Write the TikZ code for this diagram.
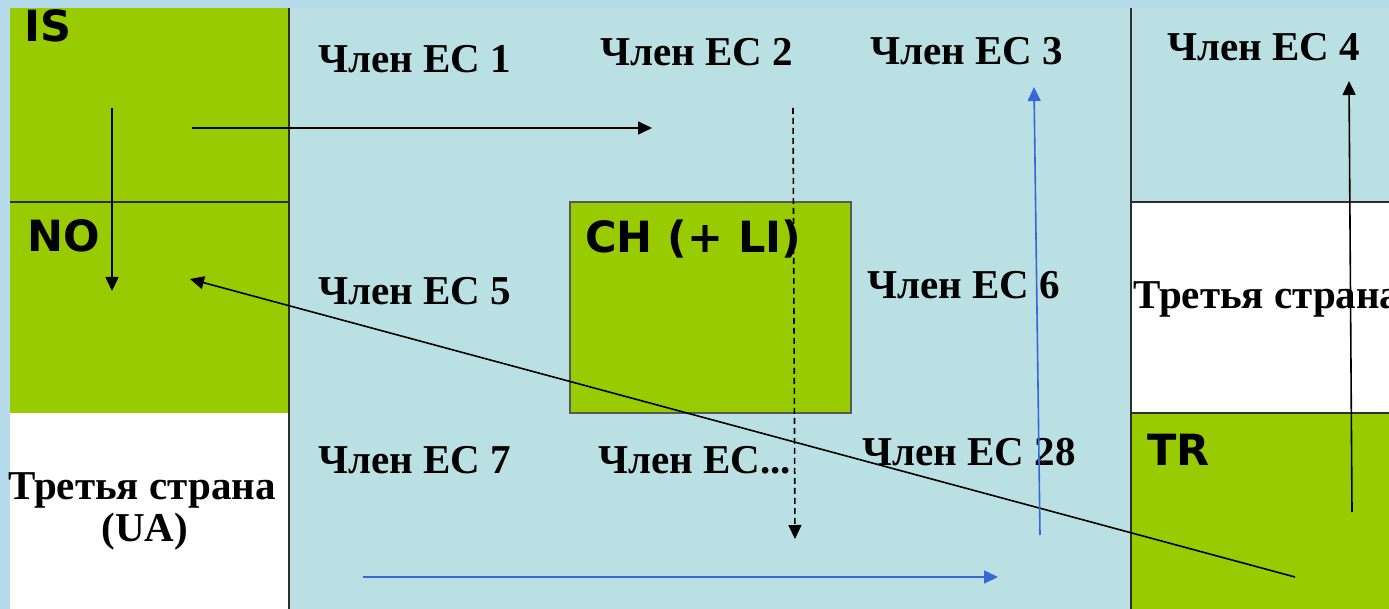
\documentclass[tikz,border=0pt]{standalone}
\usepackage{fontspec}
\setmainfont{Liberation Serif}
\newfontfamily\codefont{DejaVu Sans}
\usetikzlibrary{arrows.meta}
\definecolor{skyframe}{HTML}{B6DCEC}
\definecolor{eupanel}{HTML}{BAE0E3}
\definecolor{efta}{HTML}{99CC00}
\definecolor{flowblue}{HTML}{3468D6}
\definecolor{rule}{HTML}{2E2E2E}
\tikzset{
  cell/.style={anchor=north west, inner sep=0pt, outer sep=0pt, draw=none},
  member/.style={anchor=base west, inner sep=0pt, font=\fontsize{41}{46}\selectfont\bfseries},
  code/.style={anchor=base west, inner sep=0pt, font=\codefont\fontsize{43}{48}\selectfont\bfseries},
  divider/.style={draw=rule, line width=1.2pt},
  flow/.style={line width=1.6pt, -{Triangle[length=14pt,width=13pt]}},
  flowdash/.style={flow, dash pattern=on 6pt off 4pt},
}
\begin{document}
\begin{tikzpicture}[x=1pt,y=-1pt]
\useasboundingbox (0,0) rectangle (1389,609);
\clip (0,0) rectangle (1389,609);
\fill[skyframe] (0,0) rectangle (1389,609);

% cells of the grid
\node[cell, fill=eupanel, minimum width=1379pt, minimum height=601pt] (eu) at (10,8) {};
\node[cell, fill=efta, minimum width=279pt, minimum height=194pt] (is) at (10,8) {};
\node[cell, fill=efta, minimum width=279pt, minimum height=211pt] (no) at (10,202) {};
\node[cell, fill=white, minimum width=279pt, minimum height=196pt] (ua) at (10,413) {};
\node[cell, fill=eupanel, minimum width=258pt, minimum height=194pt] (top4) at (1131,8) {};
\node[cell, fill=white, minimum width=258pt, minimum height=211pt] (third) at (1131,202) {};
\node[cell, fill=efta, minimum width=258pt, minimum height=196pt] (tr) at (1131,413) {};
\node[cell, fill=efta, draw=rule!80, line width=1.2pt, minimum width=281pt, minimum height=211pt] (ch) at (570,202) {};

% grid rules
\draw[divider] (is.south west) -- (is.south east);
\draw[divider] (is.north east) -- (ua.south east);
\draw[divider] (top4.north west) -- (tr.south west);
\draw[divider] (third.north west) -- (third.north east);
\draw[divider] (tr.north west) -- (tr.north east);

% labels
\node[code] (lis) at (24,42) {IS};
\node[code] (lno) at (27,252) {NO};
\node[code] (lch) at (585,253) {CH (+ LI)};
\node[code] (ltr) at (1147,465) {TR};
\node[member] (m1) at (318,73) {Член ЕС 1};
\node[member] (m2) at (600,66) {Член ЕС 2};
\node[member] (m3) at (870,65) {Член ЕС 3};
\node[member] (m4) at (1167,61) {Член ЕС 4};
\node[member] (m5) at (318,305) {Член ЕС 5};
\node[member] (m6) at (867,299) {Член ЕС 6};
\node[member] (m7) at (318,473) {Член ЕС 7};
\node[member] (mx) at (598,473) {Член ЕС...};
\node[member] (m28) at (862,465) {Член ЕС 28};
\node[member] (t2) at (1133,309) {Третья страна};
\node[member, anchor=base] (t1) at (142,499) {Третья страна};
\node[member, anchor=base] (t1b) at (145,541) {(UA)};

% flow end points
\coordinate (a1s) at (192,128);  \coordinate (a1e) at (652,128);
\coordinate (a2s) at (112,108);  \coordinate (a2e) at (112,291);
\coordinate (a3s) at (1295,577); \coordinate (a3e) at (190,279);
\coordinate (a4s) at (793,108);  \coordinate (a4e) at (795,539);
\coordinate (a5s) at (1040,535); \coordinate (a5e) at (1034,87);
\coordinate (a6s) at (363,577);  \coordinate (a6e) at (998,577);
\coordinate (a7s) at (1352,512); \coordinate (a7e) at (1349,81);

% flows
\draw[flow] (a1s) -- (a1e);
\draw[flow] (a2s) -- (a2e);
\draw[flow] (a3s) -- (a3e);
\draw[flowdash] (a4s) -- (a4e);
\draw[flow, flowblue] (a5s) -- (a5e);
\draw[flow, flowblue] (a6s) -- (a6e);
\draw[flow] (a7s) -- (a7e);
\end{tikzpicture}
\end{document}
